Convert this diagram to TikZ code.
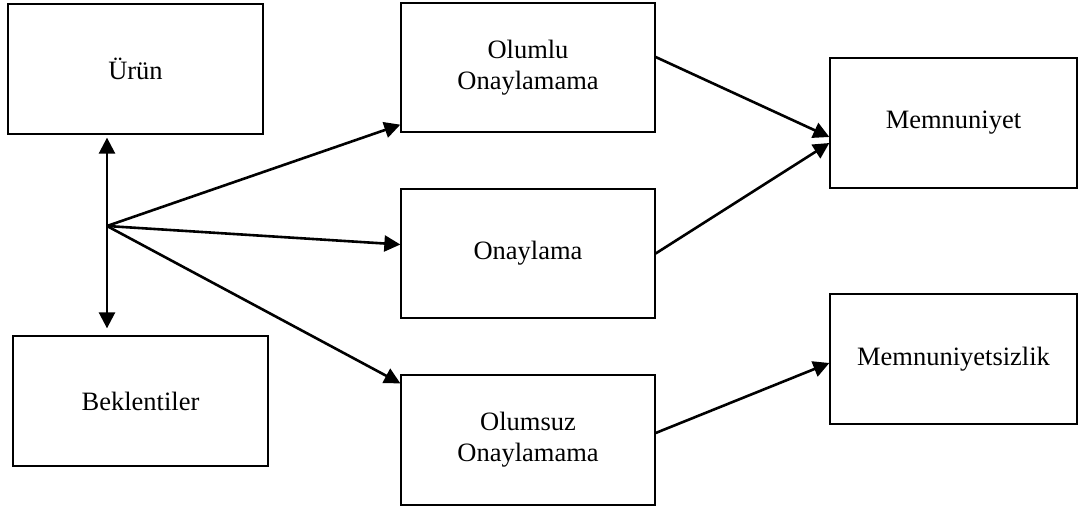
\documentclass[tikz,border=0pt]{standalone}
\usepackage{fontspec}
\setmainfont{Liberation Serif}
\usetikzlibrary{arrows.meta}
\begin{document}
\begin{tikzpicture}[x=1pt,y=-1pt,
  box/.style={draw,line width=1.3pt,rectangle,inner sep=0pt,align=center,
    font=\fontsize{26.5}{31}\selectfont},
  link/.style={line width=2.6pt,-{Triangle[length=16pt,width=16pt]}},
  twoway/.style={line width=2.6pt,{Triangle[length=16pt,width=16pt]}-{Triangle[length=16pt,width=16pt]}}]
  % canvas
  \fill[white] (0,0) rectangle (1080,509);
  \useasboundingbox (0,0) rectangle (1080,509);

  % left column
  \node[box,minimum width=255pt,minimum height=130pt] (urun) at (135.5,69) {Ürün};
  \node[box,minimum width=255pt,minimum height=130pt] (bek) at (140.5,401) {Beklentiler};
  \coordinate (hub) at (107,226);

  % middle column
  \node[box,minimum width=254pt,minimum height=129pt] (olumlu) at (528,67.5) {Olumlu\\Onaylamama};
  \node[box,minimum width=254pt,minimum height=129pt] (onay) at (528,253.5) {Onaylama};
  \node[box,minimum width=254pt,minimum height=130pt] (olumsuz) at (528,440) {Olumsuz\\Onaylamama};

  % right column
  \node[box,minimum width=247pt,minimum height=130pt] (memn) at (953.5,123) {Memnuniyet};
  \node[box,minimum width=247pt,minimum height=130pt] (memns) at (953.5,359) {Memnuniyetsizlik};

  % product <-> expectations
  \draw[twoway] ([yshift=-3pt]urun.south -| hub) -- ([yshift=7pt]bek.north -| hub);

  % comparison outcomes
  \draw[link] (hub) -- ([yshift=8pt]olumlu.south west);
  \draw[link] (hub) -- ([yshift=9pt]onay.west);
  \draw[link] (hub) -- ([yshift=-9pt]olumsuz.north west);

  % satisfaction results
  \draw[link] ([yshift=10.5pt]olumlu.east) -- ([yshift=-14pt]memn.west);
  \draw[link] (onay.east) -- ([yshift=-20pt]memn.west);
  \draw[link] ([yshift=7pt]olumsuz.east) -- ([yshift=-4pt]memns.west);
\end{tikzpicture}
\end{document}
